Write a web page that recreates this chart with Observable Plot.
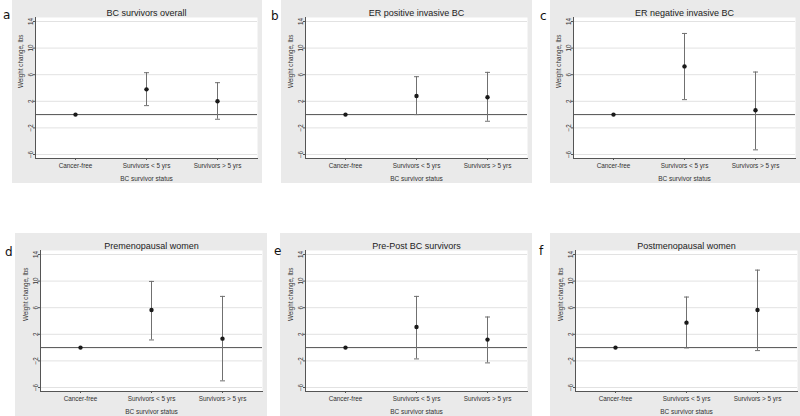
<!DOCTYPE html>
<html><head><meta charset="utf-8">
<script src="https://cdn.jsdelivr.net/npm/d3@7"></script>
<script src="https://cdn.jsdelivr.net/npm/@observablehq/plot@0.6"></script>
<style>
html,body{margin:0;padding:0;background:#fff;overflow:hidden;}
#root{position:relative;width:800px;height:416px;overflow:hidden;font-family:"Liberation Sans",Arial,sans-serif;}
#root svg{position:absolute;}
</style></head><body><div id="root"></div>
<script>
const categories = ["Cancer-free", "Survivors < 5 yrs", "Survivors > 5 yrs"];
const panelTitles = ["BC survivors overall", "ER positive invasive BC", "ER negative invasive BC",
                     "Premenopausal women", "Pre-Post BC survivors", "Postmenopausal women"];
const panelLetters = ["a", "b", "c", "d", "e", "f"];
const estimates = [[0, 3.8, 2.0], [0, 2.8, 2.6], [0, 7.25, 0.65], [0, 5.65, 1.35], [0, 3.1, 1.2], [0, 3.75, 5.65]];
const lowerCI   = [[0, 1.35, -0.7], [0, 0.0, -1.0], [0, 2.25, -5.3], [0, 1.15, -5.0], [0, -1.7, -2.3], [0, -0.05, -0.45]];
const upperCI   = [[0, 6.3, 4.8], [0, 5.7, 6.35], [0, 12.2, 6.4], [0, 9.95, 7.7], [0, 7.7, 4.6], [0, 7.6, 11.65]];
const yTicks = [-6, -2, 2, 6, 10, 14];
const yLabel = "Weight change, lbs";
const xLabel = "BC survivor status";

// layout (positions only)
const layout = [
  {left: 12, top: 0, ml: 23, letter: [3, 19]},
  {left: 281, top: 0, ml: 24, letter: [271, 20]},
  {left: 550, top: 0, ml: 23, letter: [540, 20]},
  {left: 15, top: 233, ml: 25, letter: [5, 256]},
  {left: 280, top: 233, ml: 25, letter: [274, 255]},
  {left: 550, top: 233, ml: 25, letter: [539, 255]}
];
const plotW = 222, mr = 5;

const capSymbol = {draw(ctx, size) { const w = Math.sqrt(size / Math.PI); ctx.moveTo(-w, 0); ctx.lineTo(w, 0); }};

const root = document.getElementById("root");
const font = '"Liberation Sans", Arial, sans-serif';

panelTitles.forEach((title, p) => {
  const L = layout[p];
  const rows = categories.map((c, i) => ({cat: c, est: estimates[p][i], lo: lowerCI[p][i], hi: upperCI[p][i]}));
  const bars = rows.filter(d => d.hi !== d.lo);
  const chart = Plot.plot({
    width: L.ml + plotW + mr, height: 183,
    marginLeft: L.ml, marginRight: mr, marginTop: 17, marginBottom: 25,
    style: {background: "#eaeaea", fontFamily: font, overflow: "visible", color: "#333"},
    x: {type: "point", domain: categories, padding: 0.56, axis: null},
    y: {domain: [-6.6, 14.6], axis: null},
    marks: [
      Plot.frame({fill: "white", stroke: "none"}),
      Plot.gridY(yTicks, {stroke: "#e2e2e2", strokeOpacity: 1}),
      Plot.ruleY([0], {stroke: "#505050", strokeWidth: 1}),
      Plot.frame({anchor: "left", stroke: "#555"}),
      Plot.frame({anchor: "bottom", stroke: "#555"}),
      Plot.axisY(yTicks, {tickSize: 2, tickPadding: 1, tickRotate: -90, fontSize: 6.3, label: null, stroke: "#555", fill: "#333"}),
      Plot.axisX({tickSize: 2, tickPadding: 3, fontSize: 6.4, label: null, stroke: "#555", fill: "#333"}),
      Plot.text([yLabel], {frameAnchor: "left", rotate: -90, dx: -13, lineAnchor: "bottom", fontSize: 6.3, fill: "#333"}),
      Plot.text([xLabel], {frameAnchor: "bottom", dy: 22, lineAnchor: "bottom", fontSize: 6.5, fill: "#333"}),
      Plot.text([title], {frameAnchor: "top", dy: -2, lineAnchor: "bottom", fontSize: 9, fill: "#222"}),
      Plot.ruleX(bars, {x: "cat", y1: "lo", y2: "hi", stroke: "#707070"}),
      Plot.dot(bars, {x: "cat", y: "lo", symbol: capSymbol, r: 2.5, stroke: "#707070", strokeWidth: 1}),
      Plot.dot(bars, {x: "cat", y: "hi", symbol: capSymbol, r: 2.5, stroke: "#707070", strokeWidth: 1}),
      Plot.dot(rows, {x: "cat", y: "est", r: 2.2, fill: "#1a1a1a", stroke: "none"})
    ]
  });
  chart.style.left = L.left + "px";
  chart.style.top = L.top + "px";
  root.appendChild(chart);
});

const overlay = d3.select(root).append("svg")
  .attr("width", 800).attr("height", 416)
  .style("left", "0px").style("top", "0px").style("pointer-events", "none");
overlay.selectAll("text").data(panelLetters).join("text")
  .attr("x", (d, i) => layout[i].letter[0])
  .attr("y", (d, i) => layout[i].letter[1])
  .attr("font-family", '"DejaVu Sans", sans-serif')
  .attr("font-size", 12)
  .attr("fill", "#111")
  .text(d => d);
</script>
</body></html>
